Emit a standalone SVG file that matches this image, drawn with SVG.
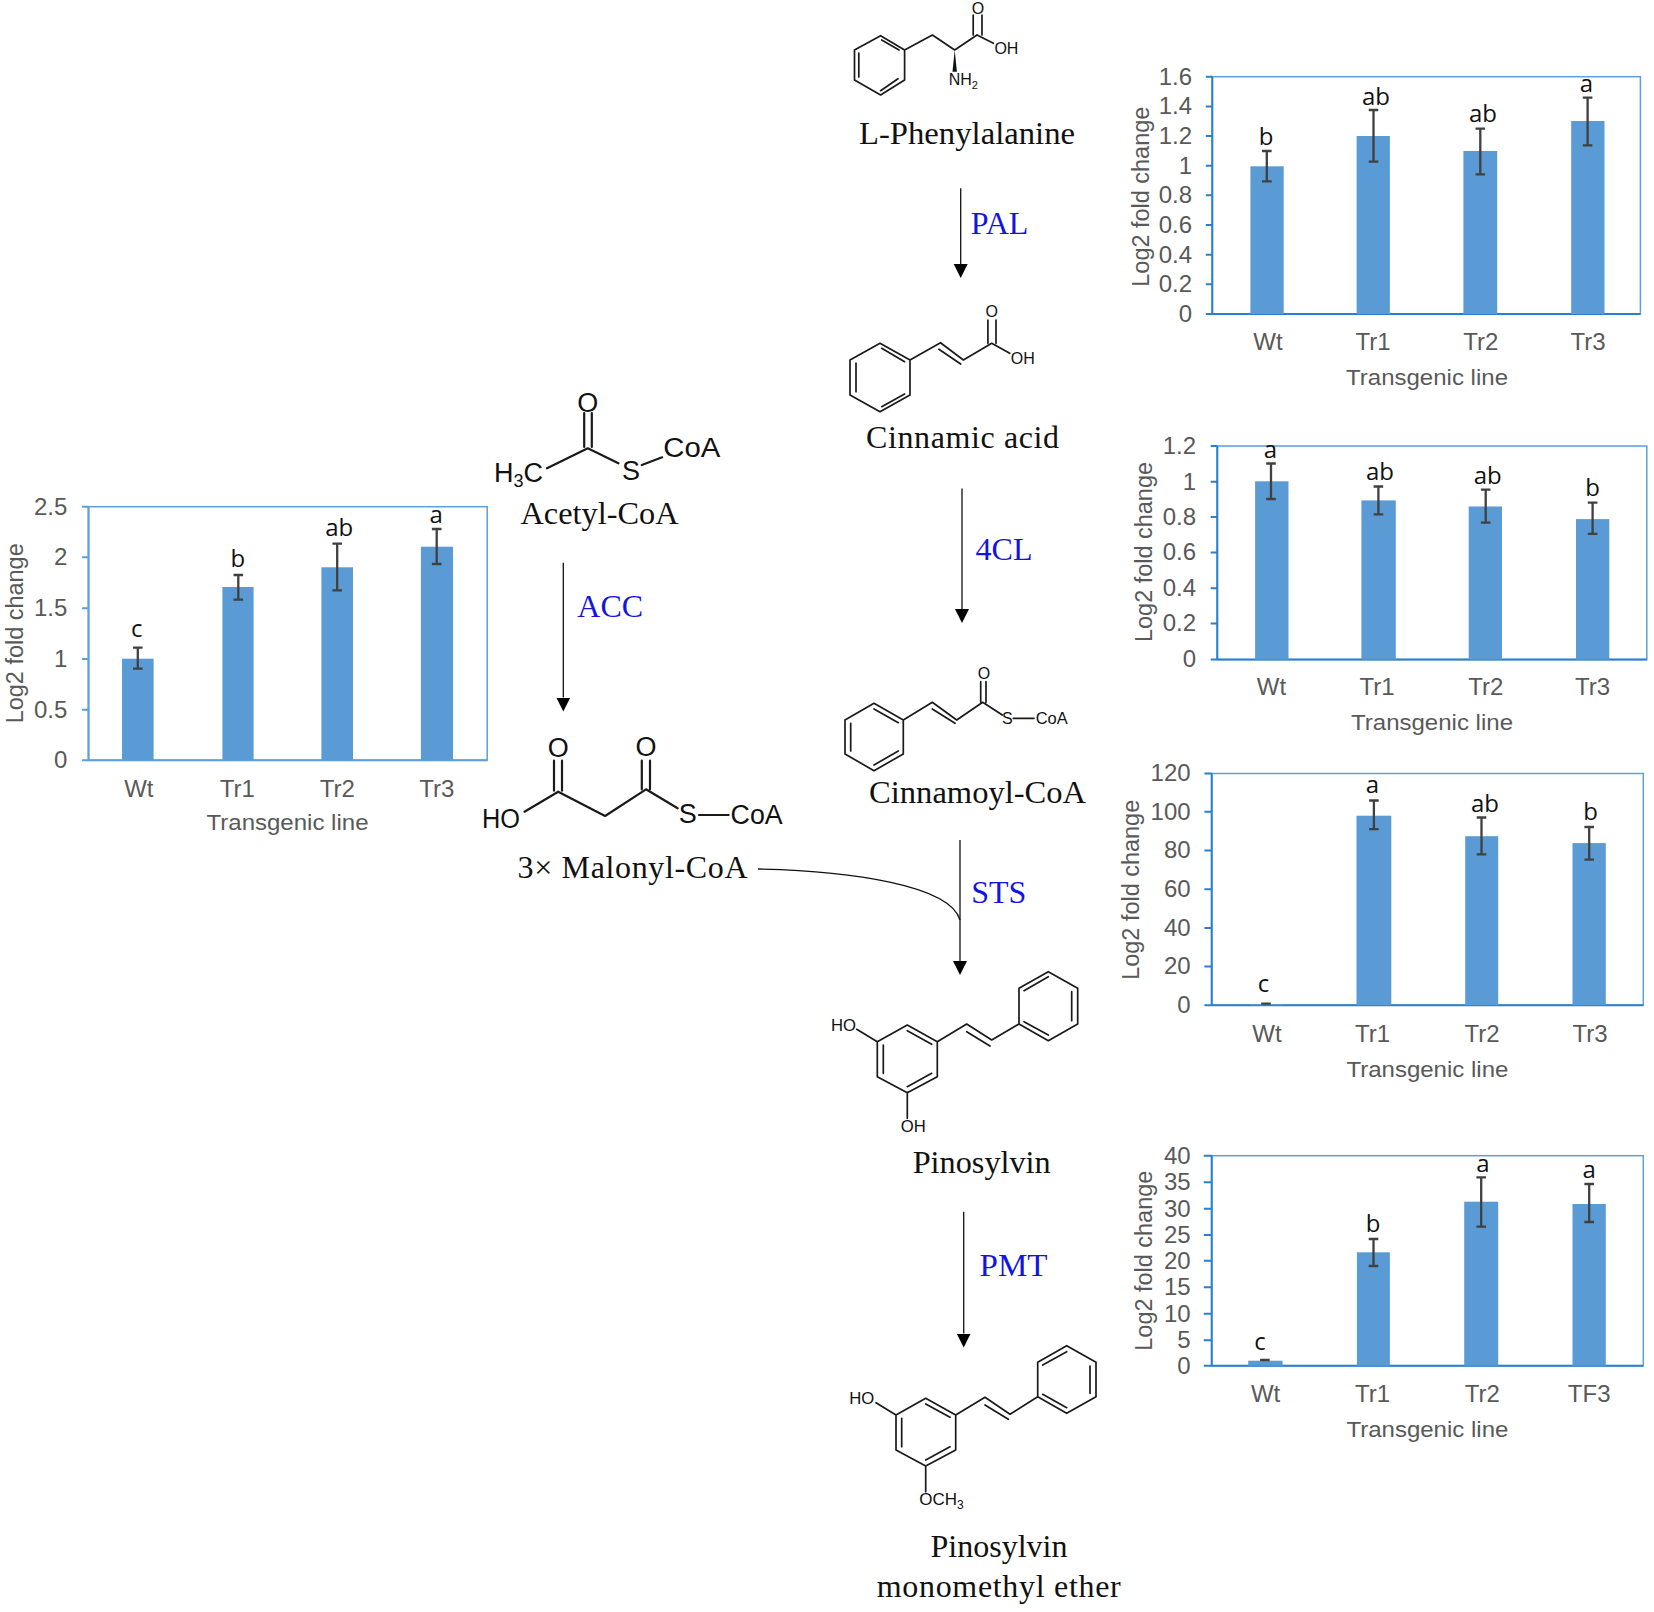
<svg xmlns="http://www.w3.org/2000/svg" width="1654" height="1612" viewBox="0 0 1654 1612">
<style>
text{font-family:"Liberation Sans",Arial,sans-serif}
.frame{fill:none;stroke:#5b9fdc;stroke-width:1.5}
.axis{fill:none;stroke:#2a80cc;stroke-width:2}
.axisl{fill:none;stroke:#5b9fdc;stroke-width:2}
.bar{fill:#5b9bd5}
.err{fill:none;stroke:#404040;stroke-width:2.300}
.tick{font-size:24px;fill:#595959;text-anchor:end}
.cat{font-size:24px;fill:#595959;text-anchor:middle}
.ttl{font-size:22px;fill:#595959;text-anchor:middle}
.ylab{font-size:23px;fill:#595959;text-anchor:middle}
.sig{font-family:"Open Sans","Noto Sans",sans-serif;font-size:24px;fill:#111;text-anchor:middle}
.name{font-family:"Liberation Serif","Times New Roman",serif;font-size:32px;fill:#111;text-anchor:middle}
.enz{font-family:"Liberation Serif","Times New Roman",serif;font-size:32px;fill:#1414e0;text-anchor:middle}
.bond{fill:none;stroke:#1a1a1a;stroke-width:1.7;stroke-linecap:round;stroke-linejoin:round}
.bondb{fill:none;stroke:#1a1a1a;stroke-width:2.2;stroke-linecap:round;stroke-linejoin:round}
.atom{font-size:16px;fill:#111}
.atoml{font-size:27px;fill:#111}
.conn{fill:none;stroke:#111;stroke-width:1.3}
</style>
<defs>
<marker id="head" markerUnits="userSpaceOnUse" markerWidth="15" markerHeight="15" refX="0" refY="7.5" orient="auto">
<path d="M0 0.5L14 7.5L0 14.500Z" fill="#000"/>
</marker>
</defs>

<g id="connectors">
<path class="conn" d="M960.700 188.300V264" marker-end="url(#head)"/>
<path class="conn" d="M962 488.400V609" marker-end="url(#head)"/>
<path class="conn" d="M960 840V961" marker-end="url(#head)"/>
<path class="conn" d="M963.700 1211.700V1333.500" marker-end="url(#head)"/>
<path class="conn" d="M563.300 562.700V697.500" marker-end="url(#head)"/>
<path class="conn" d="M758 869C850 871 950 885 960 920"/>
</g>

<g id="enzymes">
<text class="enz" x="999.600" y="234.300">PAL</text>
<text class="enz" x="1004" y="560">4CL</text>
<text class="enz" x="998.800" y="902.700">STS</text>
<text class="enz" x="1013.500" y="1276" textLength="68" lengthAdjust="spacingAndGlyphs">PMT</text>
<text class="enz" x="610.200" y="617.300">ACC</text>
</g>

<g id="node-phenylalanine">
<path class="bond" d="M880.600 35.700L904.600 50V80L880.600 95L854.500 80V50ZM881.700 40L899 50M858.800 53V77M880.600 90.700L898 78.700M904.600 50L932.400 35L954.700 50L977 35M973.200 35V15M982 35V15M977 35L993.400 43.300"/>
<path d="M954.700 50L952.500 71.700H956.900Z" fill="#111"/>
<text class="atom" x="978" y="14" text-anchor="middle">O</text>
<text class="atom" x="994.400" y="54">OH</text>
<text class="atom" x="948.700" y="85">NH<tspan font-size="11" dy="4">2</tspan></text>
<text class="name" x="967" y="144" textLength="216" lengthAdjust="spacingAndGlyphs">L-Phenylalanine</text>
</g>

<g id="node-cinnamic-acid">
<path class="bond" d="M880 343.300L910 360V395L880 411.700L850 395V360ZM881.700 348.300L904.600 361.700M856 363V391.700M881.700 406.700L904.600 394M910 360L940.500 342.700L963.400 360L991.700 343.300M938.900 349.300L960.700 364M987.900 343.300V320M996 343.300V320M991.700 343.300L1009.700 353.300"/>
<text class="atom" x="991.700" y="317.300" text-anchor="middle">O</text>
<text class="atom" x="1010.800" y="364">OH</text>
<text class="name" x="962.500" y="448" textLength="193" lengthAdjust="spacing">Cinnamic acid</text>
</g>

<g id="node-cinnamoyl-coa">
<path class="bond" d="M874 703.300L903.300 720V754L874 770.700L845 754V720ZM874 709L898.300 722.700M850.700 723.300V751M874 765L898.300 751M903.300 720L932.300 702.300L956.700 720L982.700 702.300M932.300 709L955 723.300M980.700 702.300V681.700M986 702.300V681.700M982.700 702.300L1002.300 715M1013.300 718.300H1034"/>
<text class="atom" x="984" y="679.300" text-anchor="middle">O</text>
<text class="atom" x="1007.300" y="724" text-anchor="middle">S</text>
<text class="atom" x="1035.700" y="724" textLength="32" lengthAdjust="spacingAndGlyphs">CoA</text>
<text class="name" x="977.600" y="803.300" textLength="217" lengthAdjust="spacingAndGlyphs">Cinnamoyl-CoA</text>
</g>

<g id="node-pinosylvin">
<path class="bond" d="M1048.300 971.700L1077.700 988.300V1024L1048.300 1040.700L1019 1024V988.300ZM1048.300 976.700L1024 990.700M1071.700 991.700V1020.700M1024 1021.700L1048.300 1035M1019 1024L991.700 1040L966.700 1024L937.300 1041.700M990 1046L966.700 1031.700M907.300 1025L937.300 1041.700V1076.700L907.300 1092.700L877.300 1076.700V1041.700ZM907.300 1030.700L931.700 1044.300M883.300 1045V1073.300M907.300 1086.700L931.700 1073.300M856.700 1029.300L877.300 1041.700M907.300 1092.700V1118.300"/>
<text class="atom" x="831" y="1030.700" textLength="25" lengthAdjust="spacingAndGlyphs">HO</text>
<text class="atom" x="900.700" y="1131.700" textLength="25" lengthAdjust="spacingAndGlyphs">OH</text>
<text class="name" x="981.700" y="1173.300" textLength="138" lengthAdjust="spacingAndGlyphs">Pinosylvin</text>
</g>

<g id="node-pinosylvin-monomethyl-ether">
<path class="bond" d="M1066.700 1345.700L1096 1362.300V1396.700L1066.700 1413.300L1037.700 1396.700V1362.300ZM1066.700 1351.700L1042.700 1365M1090 1366V1393.300M1042.700 1394.300L1066.700 1407.700M1037.700 1396.700L1010 1414.300L985 1397.300L955.700 1415M1008.300 1419.300L985 1405M925.700 1398.300L955.700 1415V1450L925.700 1466L896 1450V1415ZM925.700 1404L950 1417.300M901.700 1418.300V1446.700M925.700 1460L950 1446.700M876 1402.700L896 1415M925.700 1466V1491.700"/>
<text class="atom" x="849.300" y="1404" textLength="25" lengthAdjust="spacingAndGlyphs">HO</text>
<text class="atom" x="919.300" y="1505" font-size="17" style="font-size:17px">OCH<tspan font-size="12" style="font-size:12px" dy="4">3</tspan></text>
<text class="name" x="999" y="1557.300" textLength="137" lengthAdjust="spacingAndGlyphs">Pinosylvin</text>
<text class="name" x="998.700" y="1597.300" textLength="244" lengthAdjust="spacing">monomethyl ether</text>
</g>

<g id="node-acetyl-coa">
<path class="bondb" d="M584.200 413V447M591.800 413V447M587.800 448.300L547 468.300M587.800 448.300L618.400 463.300M641.800 465L662.200 457.300"/>
<text class="atoml" x="587.800" y="411.700" text-anchor="middle">O</text>
<text class="atoml" x="631" y="480" text-anchor="middle">S</text>
<text class="atoml" x="663.300" y="457.300" textLength="57" lengthAdjust="spacingAndGlyphs">CoA</text>
<text class="atoml" x="493.900" y="481.700">H<tspan font-size="18" dy="5">3</tspan><tspan dy="-5">C</tspan></text>
<text class="name" x="599.500" y="524" textLength="158" lengthAdjust="spacingAndGlyphs">Acetyl-CoA</text>
</g>

<g id="node-malonyl-coa">
<path class="bondb" d="M554 760.700V790.700M562 760.700V790.700M558.200 791.700L524.500 811.700M558.200 791.700L605.100 816L646 789.300M641.800 760.700V789.300M650 760.700V789.300M646 789.300L677.600 808.300M699 815H728.600"/>
<text class="atoml" x="558.200" y="756.700" text-anchor="middle">O</text>
<text class="atoml" x="646" y="756" text-anchor="middle">O</text>
<text class="atoml" x="687.800" y="823.300" text-anchor="middle">S</text>
<text class="atoml" x="730.600" y="824" textLength="52" lengthAdjust="spacingAndGlyphs">CoA</text>
<text class="atoml" x="482" y="828.300" textLength="38" lengthAdjust="spacingAndGlyphs">HO</text>
<text class="name" x="632.600" y="878.300" textLength="230" lengthAdjust="spacing">3× Malonyl-CoA</text>
</g>

<g id="chart-acc">
<rect class="frame" x="88.500" y="506.700" width="398.700" height="253.600"/>
<path class="axisl" d="M88.500 506.700V760.300H487.200M82 506.700H88.500M82 557.300H88.500M82 608.300H88.500M82 659H88.500M82 709.700H88.500M82 760.300H88.500"/>
<rect class="bar" x="122" y="658.700" width="31.600" height="101.600"/>
<rect class="bar" x="222.400" y="587" width="31.200" height="173.300"/>
<rect class="bar" x="321.400" y="567.300" width="31.600" height="193"/>
<rect class="bar" x="420.900" y="546.700" width="32.100" height="213.600"/>
<path class="err" d="M137.800 647.700V668.700M133 647.700H142.600M133 668.700H142.600M238.300 575V599.700M233.500 575H243.100M233.500 599.700H243.100M337.200 543.700V590.300M332.400 543.700H342M332.400 590.300H342M436.700 529V564M431.900 529H441.500M431.900 564H441.500"/>
<text class="tick" x="67.300" y="514.500">2.5</text>
<text class="tick" x="67.300" y="565.100">2</text>
<text class="tick" x="67.300" y="616.100">1.5</text>
<text class="tick" x="67.300" y="666.800">1</text>
<text class="tick" x="67.300" y="717.500">0.5</text>
<text class="tick" x="67.300" y="768.100">0</text>
<text class="cat" x="138.800" y="796.700">Wt</text>
<text class="cat" x="237.200" y="796.700">Tr1</text>
<text class="cat" x="337.200" y="796.700">Tr2</text>
<text class="cat" x="436.700" y="796.700">Tr3</text>
<text class="ttl" x="287.500" y="830" textLength="162" lengthAdjust="spacingAndGlyphs">Transgenic line</text>
<text class="ylab" transform="rotate(-90 23 633.300)" x="23" y="633.300" textLength="180" lengthAdjust="spacingAndGlyphs">Log2 fold change</text>
<text class="sig" x="136.700" y="636.700">c</text>
<text class="sig" x="237.800" y="566.700">b</text>
<text class="sig" x="339.300" y="535.700">ab</text>
<text class="sig" x="436.200" y="523.300">a</text>
</g>

<g id="chart-pal">
<rect class="frame" x="1212.300" y="76.700" width="428.100" height="237.300"/>
<path class="axis" d="M1212.300 76.700V314H1640.400M1205.800 76.700H1212.300M1205.800 106.400H1212.300M1205.800 136H1212.300M1205.800 165.700H1212.300M1205.800 195.300H1212.300M1205.800 225H1212.300M1205.800 254.700H1212.300M1205.800 284.300H1212.300M1205.800 314H1212.300"/>
<rect class="bar" x="1250.400" y="166.300" width="33.300" height="147.700"/>
<rect class="bar" x="1356.600" y="136" width="33.300" height="178"/>
<rect class="bar" x="1463.400" y="151" width="33.800" height="163"/>
<rect class="bar" x="1571.200" y="121" width="33.300" height="193"/>
<path class="err" d="M1266.800 151V181.300M1262 151H1271.600M1262 181.300H1271.600M1373.500 110V161.700M1368.700 110H1378.300M1368.700 161.700H1378.300M1480.300 128.700V174.300M1475.500 128.700H1485.100M1475.500 174.300H1485.100M1587.600 97.700V145.300M1582.800 97.700H1592.400M1582.800 145.300H1592.400"/>
<text class="tick" x="1192" y="84.500">1.6</text>
<text class="tick" x="1192" y="114.200">1.4</text>
<text class="tick" x="1192" y="143.800">1.2</text>
<text class="tick" x="1192" y="173.500">1</text>
<text class="tick" x="1192" y="203.100">0.8</text>
<text class="tick" x="1192" y="232.800">0.6</text>
<text class="tick" x="1192" y="262.500">0.4</text>
<text class="tick" x="1192" y="292.100">0.2</text>
<text class="tick" x="1192" y="321.800">0</text>
<text class="cat" x="1267.900" y="350">Wt</text>
<text class="cat" x="1373" y="350">Tr1</text>
<text class="cat" x="1480.800" y="350">Tr2</text>
<text class="cat" x="1588" y="350">Tr3</text>
<text class="ttl" x="1427" y="385" textLength="162" lengthAdjust="spacingAndGlyphs">Transgenic line</text>
<text class="ylab" transform="rotate(-90 1148.600 196.700)" x="1148.600" y="196.700" textLength="180" lengthAdjust="spacingAndGlyphs">Log2 fold change</text>
<text class="sig" x="1266" y="145">b</text>
<text class="sig" x="1376" y="105">ab</text>
<text class="sig" x="1483" y="121.700">ab</text>
<text class="sig" x="1586.500" y="91.700">a</text>
</g>

<g id="chart-4cl">
<rect class="frame" x="1217.300" y="446" width="429.500" height="213.600"/>
<path class="axis" d="M1217.300 446V659.600H1646.800M1210.700 446H1217.300M1210.700 481.700H1217.300M1210.700 517H1217.300M1210.700 552.600H1217.300M1210.700 588.300H1217.300M1210.700 623.500H1217.300M1210.700 659.600H1217.300"/>
<rect class="bar" x="1255.100" y="481.300" width="33.400" height="178.300"/>
<rect class="bar" x="1361.400" y="500.400" width="34.400" height="159.200"/>
<rect class="bar" x="1468.700" y="506.500" width="33.300" height="153.100"/>
<rect class="bar" x="1576" y="519.100" width="33.300" height="140.500"/>
<path class="err" d="M1271 463.500V499M1266.200 463.500H1275.800M1266.200 499H1275.800M1378.400 486.500V514.300M1373.600 486.500H1383.200M1373.600 514.300H1383.200M1485.700 489.600V522.600M1480.900 489.600H1490.500M1480.900 522.600H1490.500M1592.600 502.600V533.900M1587.800 502.600H1597.400M1587.800 533.900H1597.400"/>
<text class="tick" x="1196" y="453.800">1.2</text>
<text class="tick" x="1196" y="489.500">1</text>
<text class="tick" x="1196" y="524.800">0.8</text>
<text class="tick" x="1196" y="560.400">0.6</text>
<text class="tick" x="1196" y="596.100">0.4</text>
<text class="tick" x="1196" y="631.300">0.2</text>
<text class="tick" x="1196" y="667.400">0</text>
<text class="cat" x="1271.500" y="695">Wt</text>
<text class="cat" x="1377" y="695">Tr1</text>
<text class="cat" x="1485.700" y="695">Tr2</text>
<text class="cat" x="1592.600" y="695">Tr3</text>
<text class="ttl" x="1432" y="730" textLength="162" lengthAdjust="spacingAndGlyphs">Transgenic line</text>
<text class="ylab" transform="rotate(-90 1152.400 552)" x="1152.400" y="552" textLength="180" lengthAdjust="spacingAndGlyphs">Log2 fold change</text>
<text class="sig" x="1270.400" y="458">a</text>
<text class="sig" x="1380" y="479.600">ab</text>
<text class="sig" x="1487.800" y="484">ab</text>
<text class="sig" x="1592.600" y="496">b</text>
</g>

<g id="chart-sts">
<rect class="frame" x="1211.700" y="773.500" width="431.600" height="231.700"/>
<path class="axis" d="M1211.700 773.500V1005.200H1643.300M1204.400 773.500H1211.700M1204.400 811.800H1211.700M1204.400 850.500H1211.700M1204.400 889.200H1211.700M1204.400 927.900H1211.700M1204.400 966.600H1211.700M1204.400 1005.200H1211.700"/>
<rect class="bar" x="1249.600" y="1004" width="33" height="1.200"/>
<rect class="bar" x="1356.500" y="815.700" width="34.800" height="189.500"/>
<rect class="bar" x="1465.200" y="836.200" width="33" height="169"/>
<rect class="bar" x="1572.500" y="843.100" width="33.300" height="162.100"/>
<path class="err" d="M1261.200 1003.700H1270.800M1373.900 800.500V829.200M1369.100 800.500H1378.700M1369.100 829.200H1378.700M1481.500 817.500V854.400M1476.700 817.500H1486.300M1476.700 854.400H1486.300M1589.200 827V859.600M1584.400 827H1594M1584.400 859.600H1594"/>
<text class="tick" x="1190.600" y="781.300">120</text>
<text class="tick" x="1190.600" y="819.600">100</text>
<text class="tick" x="1190.600" y="858.300">80</text>
<text class="tick" x="1190.600" y="897">60</text>
<text class="tick" x="1190.600" y="935.700">40</text>
<text class="tick" x="1190.600" y="974.400">20</text>
<text class="tick" x="1190.600" y="1013">0</text>
<text class="cat" x="1267" y="1041.500">Wt</text>
<text class="cat" x="1372.500" y="1041.500">Tr1</text>
<text class="cat" x="1482" y="1041.500">Tr2</text>
<text class="cat" x="1590" y="1041.500">Tr3</text>
<text class="ttl" x="1427.400" y="1077" textLength="162" lengthAdjust="spacingAndGlyphs">Transgenic line</text>
<text class="ylab" transform="rotate(-90 1139.500 889.800)" x="1139.500" y="889.800" textLength="180" lengthAdjust="spacingAndGlyphs">Log2 fold change</text>
<text class="sig" x="1263.500" y="992">c</text>
<text class="sig" x="1372.500" y="793">a</text>
<text class="sig" x="1485" y="811.600">ab</text>
<text class="sig" x="1590.600" y="820">b</text>
</g>

<g id="chart-pmt">
<rect class="frame" x="1211.700" y="1155.700" width="431.600" height="210"/>
<path class="axis" d="M1211.700 1155.700V1365.700H1643.300M1203.800 1155.700H1211.700M1203.800 1182.300H1211.700M1203.800 1208.700H1211.700M1203.800 1235H1211.700M1203.800 1260.700H1211.700M1203.800 1287.300H1211.700M1203.800 1313.700H1211.700M1203.800 1340.300H1211.700M1203.800 1365.700H1211.700"/>
<rect class="bar" x="1248.200" y="1360.700" width="34.400" height="5"/>
<rect class="bar" x="1356.900" y="1252.300" width="33" height="113.400"/>
<rect class="bar" x="1464.200" y="1201.700" width="34" height="164"/>
<rect class="bar" x="1572.500" y="1204" width="33.300" height="161.700"/>
<path class="err" d="M1260.100 1360H1269.700M1373.500 1239V1266M1368.700 1239H1378.300M1368.700 1266H1378.300M1481.200 1177.300V1226.700M1476.400 1177.300H1486M1476.400 1226.700H1486M1589.200 1184V1222M1584.400 1184H1594M1584.400 1222H1594"/>
<text class="tick" x="1190.600" y="1163.500">40</text>
<text class="tick" x="1190.600" y="1190.100">35</text>
<text class="tick" x="1190.600" y="1216.500">30</text>
<text class="tick" x="1190.600" y="1242.800">25</text>
<text class="tick" x="1190.600" y="1268.500">20</text>
<text class="tick" x="1190.600" y="1295.100">15</text>
<text class="tick" x="1190.600" y="1321.500">10</text>
<text class="tick" x="1190.600" y="1348.100">5</text>
<text class="tick" x="1190.600" y="1373.500">0</text>
<text class="cat" x="1265.600" y="1401.700">Wt</text>
<text class="cat" x="1372.500" y="1401.700">Tr1</text>
<text class="cat" x="1482.200" y="1401.700">Tr2</text>
<text class="cat" x="1589.200" y="1401.700">TF3</text>
<text class="ttl" x="1427.400" y="1436.700" textLength="162" lengthAdjust="spacingAndGlyphs">Transgenic line</text>
<text class="ylab" transform="rotate(-90 1152.400 1260.700)" x="1152.400" y="1260.700" textLength="180" lengthAdjust="spacingAndGlyphs">Log2 fold change</text>
<text class="sig" x="1260" y="1350">c</text>
<text class="sig" x="1373.200" y="1231.700">b</text>
<text class="sig" x="1483" y="1172.300">a</text>
<text class="sig" x="1589.200" y="1178.300">a</text>
</g>
</svg>
